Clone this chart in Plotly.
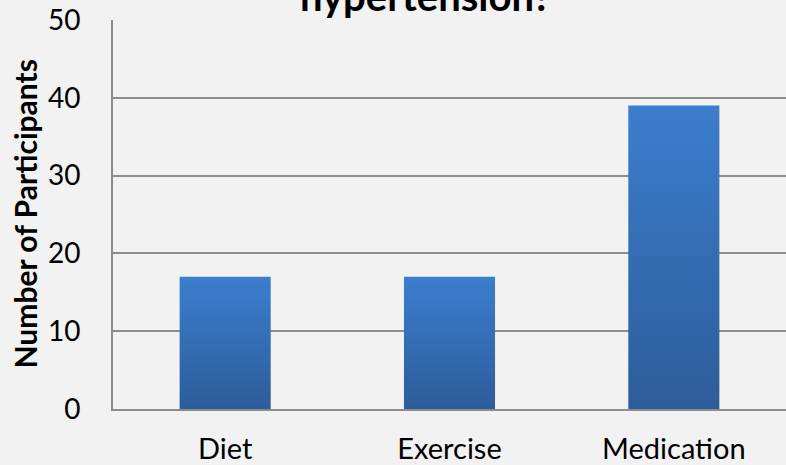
import plotly.graph_objects as go

# Survey results
categories = ["Diet", "Exercise", "Medication"]
participants = [17, 17, 39]
y_ticks = [0, 10, 20, 30, 40, 50]

title_text = "hypertension?"
y_title = "Number of Participants"

FONT = "Lato"
GRID = "#8c8c8c"
BG = "#f2f2f2"
BAR_HALF = 0.203  # half bar width in category units

fig = go.Figure()

# Each bar is a filled polygon so it can carry a vertical gradient
for i, (cat, val) in enumerate(zip(categories, participants)):
    xs = [i - BAR_HALF, i + BAR_HALF, i + BAR_HALF, i - BAR_HALF, i - BAR_HALF]
    ys = [0, 0, val, val, 0]
    fig.add_trace(go.Scatter(
        x=xs, y=ys, mode="lines", fill="toself",
        line=dict(width=0, color="rgba(0,0,0,0)"),
        fillgradient=dict(type="vertical",
                          colorscale=[[0, "#2d5c9a"], [1, "#3b7ecd"]]),
        hoverinfo="text", text=f"{cat}: {val}", showlegend=False,
    ))

fig.update_layout(
    width=786, height=465,
    margin=dict(l=113, r=0, t=20, b=56),
    paper_bgcolor=BG, plot_bgcolor=BG,
    font=dict(family=FONT, size=28, color="#000000"),
    xaxis=dict(
        range=[-0.5, 2.5], tickvals=list(range(len(categories))),
        ticktext=categories, showgrid=False, zeroline=False,
        showline=True, linecolor=GRID, linewidth=2, automargin=False,
        ticks="", ticklabelstandoff=13, fixedrange=True,
        tickfont=dict(size=29),
    ),
    yaxis=dict(
        range=[0, 50], tickvals=y_ticks, showgrid=True, gridcolor=GRID,
        gridwidth=1.5, zeroline=False, showline=True, linecolor=GRID,
        linewidth=2, ticks="", ticklabelstandoff=25, fixedrange=True,
        automargin=False,
    ),
    annotations=[
        dict(text=f"<b>{title_text}</b>", xref="paper", yref="paper",
             x=(425 - 113) / 673, y=1 - 2 / 389, xanchor="center",
             yanchor="bottom", showarrow=False,
             font=dict(family=FONT, size=40, color="#000000")),
        dict(text=f"<b>{y_title}</b>", xref="paper", yref="paper",
             x=(24 - 113) / 673, y=0.5, xanchor="center", yanchor="middle",
             textangle=-90, showarrow=False,
             font=dict(family=FONT, size=30, color="#000000")),
    ],
)

fig.write_html("out.html")
